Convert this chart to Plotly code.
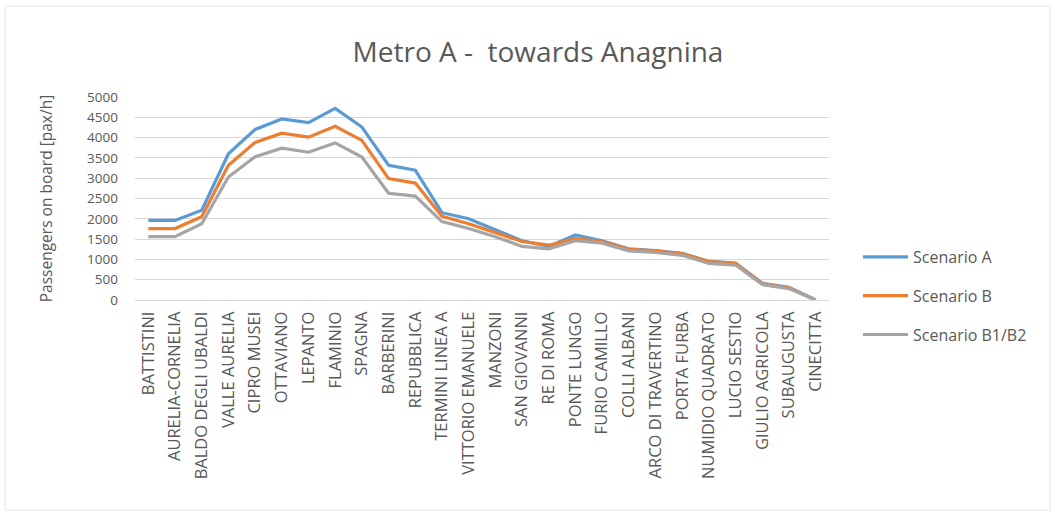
import plotly.graph_objects as go

stations = [
    "BATTISTINI", "AURELIA-CORNELIA", "BALDO DEGLI UBALDI", "VALLE AURELIA",
    "CIPRO MUSEI", "OTTAVIANO", "LEPANTO", "FLAMINIO", "SPAGNA", "BARBERINI",
    "REPUBBLICA", "TERMINI LINEA A", "VITTORIO EMANUELE", "MANZONI",
    "SAN GIOVANNI", "RE DI ROMA", "PONTE LUNGO", "FURIO CAMILLO",
    "COLLI ALBANI", "ARCO DI TRAVERTINO", "PORTA FURBA", "NUMIDIO QUADRATO",
    "LUCIO SESTIO", "GIULIO AGRICOLA", "SUBAUGUSTA", "CINECITTA",
]

scenario_a = [1960, 1960, 2210, 3600, 4200, 4460, 4370, 4720, 4260, 3320,
              3200, 2150, 2000, 1720, 1460, 1320, 1600, 1460, 1260, 1220,
              1150, 950, 910, 410, 310, 0]
scenario_b = [1760, 1760, 2050, 3320, 3880, 4110, 4010, 4280, 3930, 2990,
              2880, 2060, 1880, 1660, 1440, 1350, 1510, 1440, 1250, 1210,
              1140, 950, 900, 400, 300, 0]
scenario_b1b2 = [1560, 1560, 1880, 3030, 3530, 3740, 3640, 3870, 3520, 2630,
                 2560, 1930, 1760, 1560, 1320, 1260, 1460, 1400, 1210, 1170,
                 1100, 900, 860, 380, 280, 0]

series = [
    ("Scenario A", scenario_a, "#5B9BD5"),
    ("Scenario B", scenario_b, "#ED7D31"),
    ("Scenario B1/B2", scenario_b1b2, "#A5A5A5"),
]

fig = go.Figure()
for name, values, color in series:
    fig.add_trace(go.Scatter(
        x=stations, y=values, name=name, mode="lines",
        legendgroup=name,
        line=dict(color=color, width=3.2),
    ))

text_color = "#595959"
font_family = "'Open Sans', Lato, sans-serif"

# pixel geometry of the plotting area
L, R, T, B = 135, 829, 97, 300
W, H = 1056, 515
pw, ph = R - L, B - T

fig.update_layout(
    width=W, height=H,
    margin=dict(l=L, r=W - R, t=T, b=H - B, pad=0),
    paper_bgcolor="white", plot_bgcolor="white",
    font=dict(family=font_family, color=text_color, size=13),
    title=dict(
        text="Metro A -  towards Anagnina",
        x=538 / W, xanchor="center",
        y=1 - 52 / H, yanchor="middle",
        font=dict(size=28, color=text_color, family=font_family),
    ),
    showlegend=True,
    legend=dict(
        x=(858 - L) / pw, xanchor="left",
        y=(B - 240) / ph, yanchor="top",
        font=dict(size=16, color=text_color, family=font_family),
        tracegroupgap=15,
        itemwidth=45,
        bgcolor="rgba(0,0,0,0)",
    ),
    xaxis=dict(
        type="category",
        range=[-0.5, len(stations) - 0.5],
        tickangle=-90,
        tickfont=dict(size=16.5, color=text_color, family=font_family),
        showgrid=False,
        showline=True, linecolor="#D9D9D9", linewidth=1,
        ticks="", ticklabelstandoff=4,
        zeroline=False,
    ),
    yaxis=dict(
        range=[0, 5000],
        tick0=0, dtick=500,
        tickfont=dict(size=13.5, color=text_color, family=font_family),
        showgrid=True, gridcolor="#D9D9D9", gridwidth=1,
        zeroline=False, showline=False,
        ticks="", ticklabelstandoff=16,
        title=dict(
            text="Passengers on board [pax/h]",
            font=dict(size=15.5, color=text_color, family=font_family),
            standoff=30,
        ),
    ),
    shapes=[dict(
        type="rect", xref="paper", yref="paper",
        x0=(5 - L) / pw, x1=(1050 - L) / pw,
        y0=(B - 510) / ph, y1=(B - 6) / ph,
        line=dict(color="#E3E3E3", width=1),
        fillcolor="rgba(0,0,0,0)", layer="below",
    )],
)

fig.write_html("out.html")
